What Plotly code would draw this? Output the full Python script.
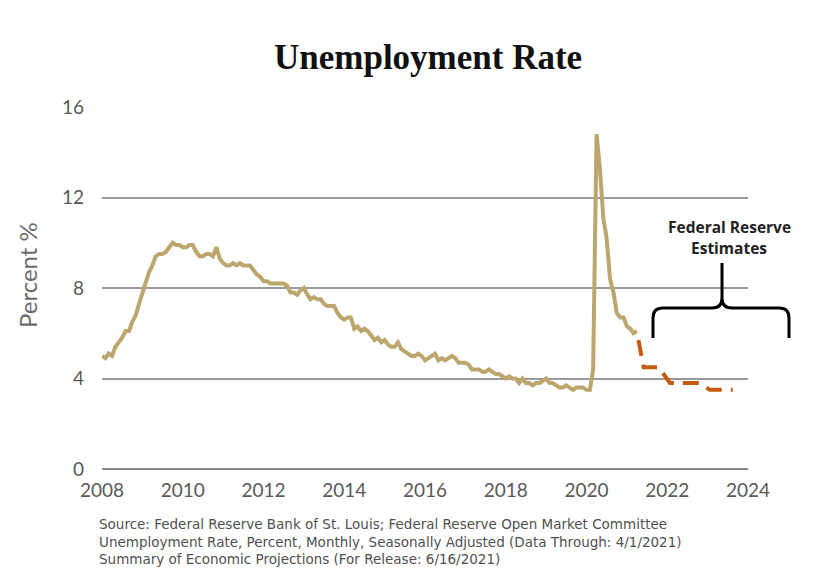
import pandas as pd
import plotly.graph_objects as go

# ---------------- data ----------------
unrate_start = "2008-01-01"
unrate_values = [
    5.0, 4.9, 5.1, 5.0, 5.4, 5.6, 5.8, 6.1, 6.1, 6.5, 6.8, 7.3,   # 2008
    7.8, 8.3, 8.7, 9.0, 9.4, 9.5, 9.5, 9.6, 9.8, 10.0, 9.9, 9.9,  # 2009
    9.8, 9.8, 9.9, 9.9, 9.6, 9.4, 9.4, 9.5, 9.5, 9.4, 9.8, 9.3,   # 2010
    9.1, 9.0, 9.0, 9.1, 9.0, 9.1, 9.0, 9.0, 9.0, 8.8, 8.6, 8.5,   # 2011
    8.3, 8.3, 8.2, 8.2, 8.2, 8.2, 8.2, 8.1, 7.8, 7.8, 7.7, 7.9,   # 2012
    8.0, 7.7, 7.5, 7.6, 7.5, 7.5, 7.3, 7.2, 7.2, 7.2, 6.9, 6.7,   # 2013
    6.6, 6.7, 6.7, 6.2, 6.3, 6.1, 6.2, 6.1, 5.9, 5.7, 5.8, 5.6,   # 2014
    5.7, 5.5, 5.4, 5.4, 5.6, 5.3, 5.2, 5.1, 5.0, 5.0, 5.1, 5.0,   # 2015
    4.8, 4.9, 5.0, 5.1, 4.8, 4.9, 4.8, 4.9, 5.0, 4.9, 4.7, 4.7,   # 2016
    4.7, 4.6, 4.4, 4.4, 4.4, 4.3, 4.3, 4.4, 4.3, 4.2, 4.2, 4.1,   # 2017
    4.0, 4.1, 4.0, 4.0, 3.8, 4.0, 3.8, 3.8, 3.7, 3.8, 3.8, 3.9,   # 2018
    4.0, 3.8, 3.8, 3.7, 3.6, 3.6, 3.7, 3.6, 3.5, 3.6, 3.6, 3.6,   # 2019
    3.5, 3.5, 4.4, 14.8, 13.3, 11.1, 10.2, 8.4, 7.8, 6.9, 6.7, 6.7,  # 2020
    6.3, 6.2, 6.0, 6.1,                                            # 2021
]
unrate_dates = pd.date_range(unrate_start, periods=len(unrate_values), freq="MS")

proj_dates = ["2021-04-15", "2021-06-01", "2021-10-15", "2022-01-25",
              "2022-10-20", "2023-01-20", "2023-08-15"]
proj_values = [5.7, 4.5, 4.5, 3.8, 3.8, 3.5, 3.5]

y_ticks = [0, 4, 8, 12, 16]
title_text = "Unemployment Rate"
y_title = "Percent %"
fed_lines = ["Federal Reserve", "Estimates"]
source_lines = [
    "Source: Federal Reserve Bank of St. Louis; Federal Reserve Open Market Committee",
    "Unemployment Rate, Percent, Monthly, Seasonally Adjusted (Data Through: 4/1/2021)",
    "Summary of Economic Projections (For Release: 6/16/2021)",
]

# ---------------- layout geometry ----------------
W, H = 813, 585
OFF = 8  # page body margin
L, R, T, B = 94, 73, 99, 124
PW, PH = W - L - R, H - T - B


def px(x):
    return (x - OFF - L) / PW


def py(y):
    return (H - B - (y - OFF)) / PH


GOLD = "#BBA66E"
ORANGE = "#C55A11"
GRAY_TXT = "#595959"

fig = go.Figure()
fig.add_trace(go.Scatter(
    x=unrate_dates, y=unrate_values, mode="lines",
    line=dict(color=GOLD, width=4), hoverinfo="skip", showlegend=False,
))
fig.add_trace(go.Scatter(
    x=proj_dates, y=proj_values, mode="lines",
    line=dict(color=ORANGE, width=4, dash="16px,9px"), hoverinfo="skip",
    showlegend=False,
))

# brace path in page-pixel terms -> paper
pts = [
    ("M", 653, 338), ("L", 653, 318), ("Q", 653, 308, 663, 308), ("L", 712, 308),
    ("Q", 722, 308, 722, 298), ("L", 722, 263), ("M", 722, 298),
    ("Q", 722, 308, 732, 308), ("L", 779, 308), ("Q", 789, 308, 789, 318),
    ("L", 789, 338),
]
path = ""
for p in pts:
    cmd = p[0]
    coords = p[1:]
    s = []
    for i in range(0, len(coords), 2):
        s.append(f"{px(coords[i]):.5f},{py(coords[i+1]):.5f}")
    path += cmd + " " + " ".join(s) + " "

shapes = [
    dict(type="path", xref="paper", yref="paper", path=path.strip(),
         line=dict(color="black", width=3)),
]

annotations = [
    dict(text=f"<b>{title_text}</b>", xref="paper", yref="paper", x=px(428), y=py(57),
         xanchor="center", yanchor="middle", showarrow=False,
         font=dict(family="Liberation Serif", size=35, color="#111111")),
    dict(text=y_title, xref="paper", yref="paper", x=px(27), y=py(275),
         xanchor="center", yanchor="middle", textangle=-90, showarrow=False,
         font=dict(family="Lato", size=24, color="#6b6b6b")),
    dict(text="<br>".join(source_lines), xref="paper", yref="paper", x=px(97), y=py(541),
         xanchor="left", yanchor="middle", align="left", showarrow=False,
         font=dict(family="DejaVu Sans", size=13.5, color="#505050")),
]
for i, line in enumerate(fed_lines):
    annotations.append(dict(
        text=f"<b>{line}</b>", xref="paper", yref="paper", x=px(729), y=py(227 + 21 * i),
        xanchor="center", yanchor="middle", showarrow=False,
        font=dict(family="Open Sans", size=15.5, color="#222222")))

fig.update_layout(
    width=W, height=H,
    margin=dict(l=L, r=R, t=T, b=B),
    paper_bgcolor="white", plot_bgcolor="white",
    shapes=shapes, annotations=annotations,
    showlegend=False,
    xaxis=dict(
        type="date", range=["2008-01-01", "2024-01-01"],
        dtick="M24", tick0="2008-01-01", tickformat="%Y",
        showgrid=False, zeroline=False, showline=False,
        ticks="", ticklabelstandoff=8,
        tickfont=dict(family="Lato", size=19, color=GRAY_TXT),
    ),
    yaxis=dict(
        range=[0, 16], tickvals=y_ticks, ticktext=[str(v) for v in y_ticks],
        showgrid=True, gridcolor="#9a9a9a", gridwidth=1.5,
        zeroline=True, zerolinecolor="#8a8a8a", zerolinewidth=1.5,
        showline=False, ticks="", ticklabelstandoff=17,
        tickfont=dict(family="Lato", size=19, color=GRAY_TXT),
    ),
)

fig.write_html("out.html")
